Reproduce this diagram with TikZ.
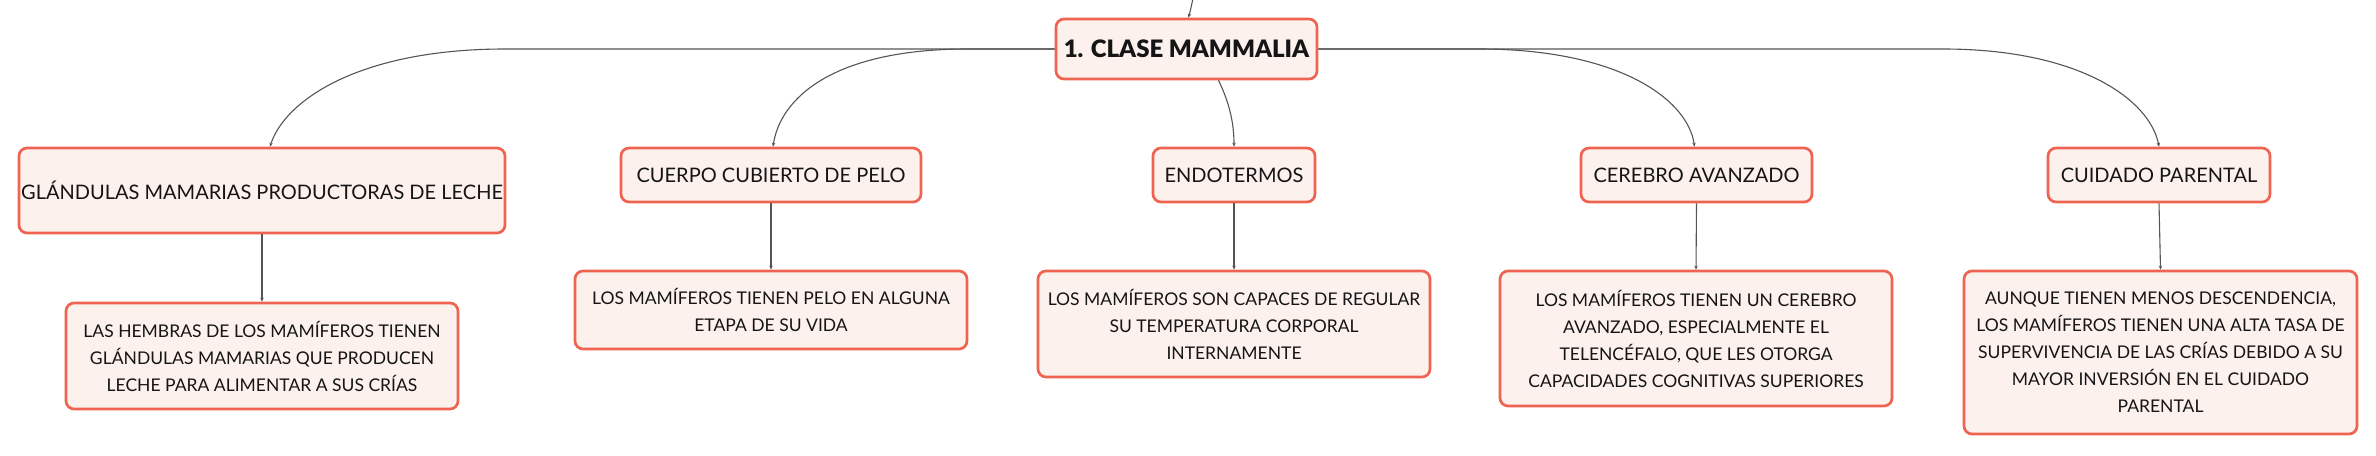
\documentclass[tikz,border=0pt]{standalone}
\usepackage{fontspec}
\setmainfont{Lato}
\newfontfamily\rootfont{Lato Black}
\usetikzlibrary{arrows.meta}
\definecolor{bordc}{HTML}{EF6450}
\definecolor{fillc}{HTML}{FDF1EE}
\definecolor{linec}{HTML}{555555}
\definecolor{txtc}{HTML}{151515}
\begin{document}
\begin{tikzpicture}[x=1pt,y=-1pt,
  box/.style={draw=bordc,fill=fillc,line width=2.7pt,rounded corners=8pt,
    inner sep=0pt,align=center,text=txtc},
  lvltwo/.style={box,font=\fontsize{20}{24}\selectfont},
  lvlthree/.style={box,font=\fontsize{17.5}{27}\selectfont},
  conn/.style={draw=linec,line width=1.1pt,-{Stealth[length=4pt,width=3.5pt]}}]
\useasboundingbox (0,0) rectangle (2376,455);
% root
\node[box,minimum width=261pt,minimum height=60pt,font=\fontsize{24}{30}\rootfont] (root) at (1186.5,49) {1. CLASE MAMMALIA};
% level 2
\node[lvltwo,minimum width=486pt,minimum height=85pt] (gland) at (262,190.5) {GLÁNDULAS MAMARIAS PRODUCTORAS DE LECHE};
\node[lvltwo,minimum width=300pt,minimum height=54pt] (cuerpo) at (771,175) {CUERPO CUBIERTO DE PELO};
\node[lvltwo,minimum width=162pt,minimum height=54pt] (endo) at (1234,175) {ENDOTERMOS};
\node[lvltwo,minimum width=231pt,minimum height=54pt] (cere) at (1696.5,175) {CEREBRO AVANZADO};
\node[lvltwo,minimum width=222pt,minimum height=54pt] (cuid) at (2159,175) {CUIDADO PARENTAL};
% level 3
\node[lvlthree,minimum width=392pt,minimum height=106pt] (glandd) at (262,356) {LAS HEMBRAS DE LOS MAMÍFEROS TIENEN\\GLÁNDULAS MAMARIAS QUE PRODUCEN\\LECHE PARA ALIMENTAR A SUS CRÍAS};
\node[lvlthree,minimum width=392pt,minimum height=78pt] (cuerpod) at (771,310) {LOS MAMÍFEROS TIENEN PELO EN ALGUNA\\ETAPA DE SU VIDA};
\node[lvlthree,minimum width=392pt,minimum height=106pt] (endod) at (1234,324) {LOS MAMÍFEROS SON CAPACES DE REGULAR\\SU TEMPERATURA CORPORAL\\INTERNAMENTE};
\node[lvlthree,minimum width=392pt,minimum height=135pt] (cered) at (1696,338.5) {LOS MAMÍFEROS TIENEN UN CEREBRO\\AVANZADO, ESPECIALMENTE EL\\TELENCÉFALO, QUE LES OTORGA\\CAPACIDADES COGNITIVAS SUPERIORES};
\node[lvlthree,minimum width=393pt,minimum height=163pt] (cuidd) at (2160.5,352.5) {AUNQUE TIENEN MENOS DESCENDENCIA,\\LOS MAMÍFEROS TIENEN UNA ALTA TASA DE\\SUPERVIVENCIA DE LAS CRÍAS DEBIDO A SU\\MAYOR INVERSIÓN EN EL CUIDADO\\PARENTAL};
% connectors
\coordinate (topin) at (1193,-2);
\draw[conn] (topin) .. controls (1191,8) .. ([xshift=2pt]root.north);
\draw[conn] (root.west) -- (505,49) .. controls (360,49) and (285,100) .. ([xshift=8pt]gland.north);
\draw[conn] (root.west) -- (968,49) .. controls (830,49) and (780,100) .. ([xshift=2pt]cuerpo.north);
\draw[conn] ([xshift=32pt]root.south) .. controls (1228,100) and (1234,120) .. (endo.north);
\draw[conn] (root.east) -- (1479,49) .. controls (1620,49) and (1688,100) .. ([xshift=-2pt]cere.north);
\draw[conn] (root.east) -- (1943,49) .. controls (2080,49) and (2150,100) .. (cuid.north);
\draw[conn] (gland.south) -- (glandd.north);
\draw[conn] (cuerpo.south) -- (cuerpod.north);
\draw[conn] (endo.south) -- (endod.north);
\draw[conn] (cere.south) -- (cered.north);
\draw[conn] (cuid.south) -- (cuidd.north);
\end{tikzpicture}
\end{document}
